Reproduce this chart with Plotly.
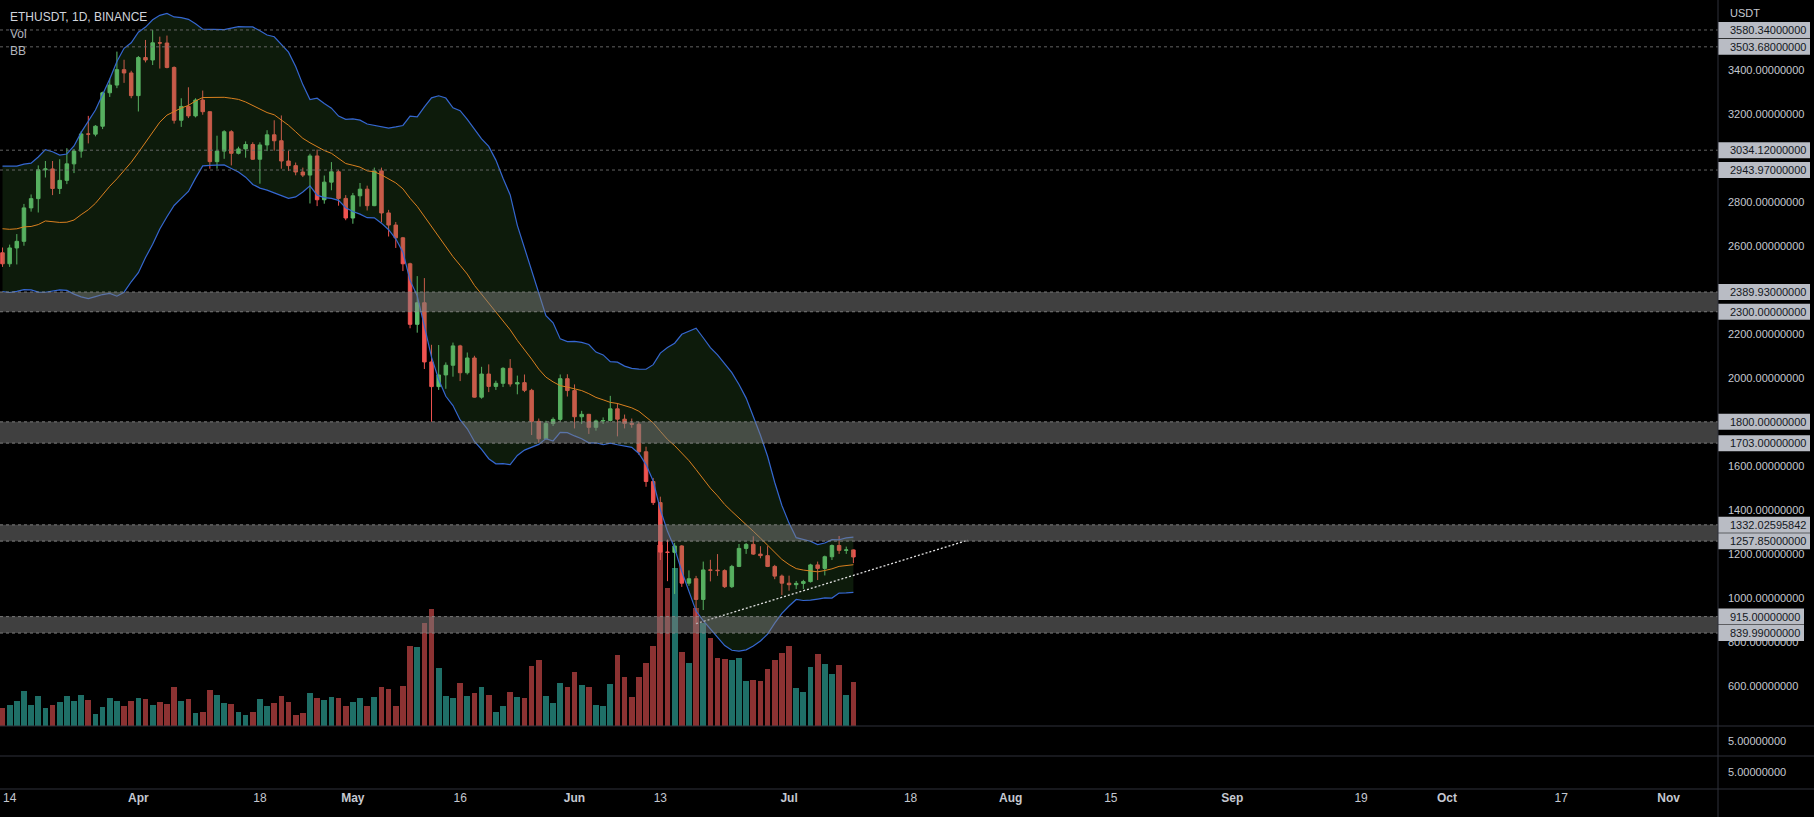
import pandas as pd
import plotly.graph_objects as go

# ---------------- data (ETHUSDT, 1D, Binance) ----------------
start_date = "2022-03-13"

# closes of the 19 days before the first visible candle (for Bollinger Bands)
pre_closes = [2640, 2575, 2597, 2778, 2771, 2620, 2920, 2972, 2950, 2834,
              2618, 2664, 2556, 2497, 2575, 2728, 2606, 2557, 2568]

opens = [2568, 2518, 2590, 2620, 2772, 2814, 2945, 2949, 2860, 2897,
         2972, 3030, 3108, 3107, 3143, 3295, 3330, 3400, 3385, 3282,
         3455, 3444, 3522, 3521, 3410, 3170, 3233, 3190, 3262, 3209,
         2982, 3030, 3118, 3020, 3040, 3060, 2993, 3058, 3104, 3077,
         2985, 2964, 2935, 2921, 3008, 2809, 2889, 2936, 2815, 2726,
         2827, 2857, 2782, 2940, 2749, 2694, 2636, 2518, 2243, 2341,
         2072, 1960, 2013, 2057, 2145, 2023, 2090, 1912, 2017, 1961,
         1975, 2043, 1972, 1978, 1943, 1802, 1723, 1792, 1811, 1996,
         1942, 1823, 1834, 1775, 1804, 1806, 1859, 1812, 1793, 1789,
         1664, 1529, 1433, 1208, 1207, 1236, 1067, 1087, 993, 1127,
         1126, 1124, 1051, 1143, 1225, 1243, 1199, 1192, 1143, 1099,
         1067, 1060, 1066, 1074, 1150, 1134, 1187, 1238, 1216, 1218]
highs = [2592, 2605, 2653, 2790, 2833, 2965, 2985, 2985, 2993, 3043,
         3040, 3120, 3190, 3148, 3300, 3360, 3482, 3445, 3395, 3462,
         3535, 3580, 3550, 3555, 3415, 3270, 3320, 3270, 3305, 3210,
         3100, 3125, 3125, 3050, 3074, 3070, 3070, 3125, 3170, 3192,
         3031, 2978, 2955, 3018, 3037, 2919, 2980, 2945, 2830, 2840,
         2885, 2873, 2955, 2955, 2763, 2708, 2640, 2523, 2462, 2453,
         2150, 2149, 2070, 2160, 2150, 2115, 2100, 2050, 2061, 1987,
         2048, 2085, 2010, 2015, 1950, 1815, 1805, 1820, 2015, 2016,
         1970, 1850, 1836, 1810, 1820, 1918, 1885, 1833, 1815, 1800,
         1687, 1545, 1460, 1265, 1250, 1240, 1125, 1100, 1165, 1173,
         1199, 1130, 1150, 1245, 1250, 1280, 1235, 1235, 1150, 1106,
         1101, 1077, 1082, 1155, 1165, 1192, 1243, 1281, 1233, 1220]
lows = [2504, 2504, 2515, 2600, 2755, 2751, 2910, 2830, 2835, 2880,
        2930, 3000, 3065, 3097, 3130, 3276, 3316, 3340, 3270, 3210,
        3433, 3421, 3405, 3406, 3155, 3140, 3180, 3183, 3195, 2950,
        2950, 2995, 2965, 3015, 3000, 2990, 2882, 3030, 3032, 2950,
        2940, 2920, 2912, 2792, 2780, 2791, 2852, 2782, 2716, 2700,
        2778, 2760, 2780, 2706, 2642, 2590, 2485, 2225, 2205, 2040,
        1800, 1945, 1950, 2005, 1985, 2015, 1910, 1905, 1935, 1945,
        1958, 1960, 1925, 1935, 1740, 1705, 1720, 1781, 1802, 1915,
        1770, 1790, 1745, 1760, 1790, 1801, 1734, 1770, 1773, 1650,
        1505, 1422, 1172, 1076, 1018, 1050, 1055, 881, 945, 1075,
        1100, 1045, 1045, 1140, 1200, 1195, 1180, 1140, 1085, 1013,
        1033, 1040, 1040, 1070, 1081, 1102, 1172, 1200, 1200, 1158]
closes = [2518, 2590, 2620, 2772, 2814, 2945, 2949, 2860, 2897, 2972,
          3030, 3108, 3107, 3143, 3295, 3330, 3400, 3385, 3282, 3455,
          3444, 3522, 3521, 3410, 3170, 3233, 3190, 3262, 3209, 2982,
          3030, 3118, 3020, 3040, 3060, 2993, 3058, 3104, 3077, 2985,
          2964, 2935, 2921, 3008, 2809, 2889, 2936, 2815, 2726, 2827,
          2857, 2782, 2940, 2749, 2694, 2636, 2518, 2243, 2341, 2072,
          1960, 2013, 2057, 2145, 2023, 2090, 1912, 2017, 1961, 1975,
          2043, 1972, 1978, 1943, 1802, 1723, 1792, 1811, 1996, 1942,
          1823, 1834, 1775, 1804, 1806, 1859, 1812, 1793, 1789, 1664,
          1529, 1433, 1208, 1207, 1236, 1067, 1087, 993, 1127, 1126,
          1124, 1051, 1143, 1225, 1243, 1199, 1192, 1143, 1099, 1067,
          1060, 1066, 1074, 1150, 1134, 1187, 1238, 1216, 1218, 1186]
# volume, thousands of ETH
volumes_k = [300, 344, 410, 579, 344, 492, 295, 344, 394, 492,
             410, 508, 426, 197, 312, 459, 410, 328, 415, 459,
             443, 344, 394, 361, 640, 410, 443, 213, 230, 590,
             508, 377, 361, 230, 180, 230, 443, 328, 377, 492,
             394, 180, 213, 541, 459, 426, 476, 459, 328, 394,
             459, 328, 476, 640, 607, 328, 656, 1312, 1296, 1689,
             1919, 951, 492, 459, 705, 492, 541, 640, 508, 230,
             328, 558, 476, 459, 984, 1082, 492, 377, 705, 640,
             886, 672, 640, 344, 328, 689, 1164, 804, 476, 804,
             1033, 1312, 2968, 2263, 2591, 1214, 1033, 1935, 1689, 1443,
             1115, 1099, 1082, 1115, 738, 754, 738, 935, 1082, 1197,
             1312, 623, 558, 968, 1181, 1017, 853, 1000, 508, 722]

# horizontal zones (low, high) and single levels
zones = [(2300.0, 2389.93), (1703.0, 1800.0), (1257.85, 1332.02595842), (839.99, 915.0)]
zone_labels = [("2389.93000000", "2300.00000000"), ("1800.00000000", "1703.00000000"),
               ("1332.02595842", "1257.85000000"), ("915.00000000", "839.99000000")]
levels = [3580.34, 3503.68, 3034.12, 2943.97]
level_labels = ["3580.34000000", "3503.68000000", "3034.12000000", "2943.97000000"]

# dotted trend line
trend_dates = ["2022-06-18", "2022-07-26"]
trend_prices = [883, 1262]

# price-scale ticks (the ones at 1800/2400/3000/3600 sit under the level labels)
price_ticks = [600, 800, 1000, 1200, 1400, 1600, 2000, 2200, 2600, 2800, 3200, 3400]
x_tick_dates = ["2022-03-14", "2022-04-01", "2022-04-18", "2022-05-01", "2022-05-16",
                "2022-06-01", "2022-06-13", "2022-07-01", "2022-07-18", "2022-08-01",
                "2022-08-15", "2022-09-01", "2022-09-19", "2022-10-01", "2022-10-17",
                "2022-11-01"]
x_tick_text = ["14", "<b>Apr</b>", "18", "<b>May</b>", "16", "<b>Jun</b>", "13", "<b>Jul</b>",
               "18", "<b>Aug</b>", "15", "<b>Sep</b>", "19", "<b>Oct</b>", "17", "<b>Nov</b>"]

# ---------------- derived ----------------
dates = pd.date_range(start_date, periods=len(closes), freq="D")
all_close = pd.Series(pre_closes + closes, dtype=float)
bb_mid_all = all_close.rolling(20).mean()
bb_dev_all = all_close.rolling(20).std(ddof=0)
n_pre = len(pre_closes)
bb_mid = bb_mid_all.iloc[n_pre:].values
bb_up = (bb_mid_all + 2 * bb_dev_all).iloc[n_pre:].values
bb_lo = (bb_mid_all - 2 * bb_dev_all).iloc[n_pre:].values

UP = "#5fbf6e"
DOWN = "#ef5350"
VOL_UP = "#1f6f67"
VOL_DOWN = "#8c3232"
vol_colors = [VOL_UP if c >= o else VOL_DOWN for o, c in zip(opens, closes)]

W, H = 1814, 817
PLOT_W = 1718
PLOT_H = 789
main_bottom = (PLOT_H - 726) / PLOT_H
pane2_bottom = (PLOT_H - 756) / PLOT_H

fig = go.Figure()

fig.add_trace(go.Bar(x=dates, y=volumes_k, marker_color=vol_colors, marker_line_width=0,
                     width=86400000 * 0.8, xaxis="x", yaxis="y", hoverinfo="skip"))

BB_BLUE = "#3567d0"
fig.add_trace(go.Scatter(x=dates, y=bb_up, mode="lines", line=dict(color=BB_BLUE, width=1.2),
                         xaxis="x", yaxis="y2", hoverinfo="skip"))
fig.add_trace(go.Scatter(x=dates, y=bb_lo, mode="lines", line=dict(color=BB_BLUE, width=1.2),
                         fill="tonexty", fillcolor="rgba(60,125,50,0.22)",
                         xaxis="x", yaxis="y2", hoverinfo="skip"))
fig.add_trace(go.Scatter(x=dates, y=bb_mid, mode="lines", line=dict(color="#d9801f", width=1),
                         xaxis="x", yaxis="y2", hoverinfo="skip"))

fig.add_trace(go.Candlestick(x=dates, open=opens, high=highs, low=lows, close=closes,
                             increasing=dict(line=dict(color=UP, width=1), fillcolor=UP),
                             decreasing=dict(line=dict(color=DOWN, width=1), fillcolor=DOWN),
                             whiskerwidth=0, xaxis="x", yaxis="y2"))

fig.add_trace(go.Scatter(x=trend_dates, y=trend_prices, mode="lines",
                         line=dict(color="#e0e0e0", width=1.3, dash="2px,2px"),
                         xaxis="x", yaxis="y2", hoverinfo="skip"))

fig.add_trace(go.Scatter(x=[], y=[], xaxis="x", yaxis="y3"))
fig.add_trace(go.Scatter(x=[], y=[], xaxis="x", yaxis="y4"))

TICK_FONT = dict(family="Liberation Sans, Arial, sans-serif", size=11, color="#c5c8d0")

fig.update_layout(
    width=W, height=H,
    margin=dict(l=0, r=W - PLOT_W, t=0, b=H - PLOT_H),
    paper_bgcolor="#000000", plot_bgcolor="#000000",
    showlegend=False,
    bargap=0,
    xaxis=dict(domain=[0, 1], anchor="y4",
               range=["2022-03-12 15:36", "2022-11-07 22:00"],
               tickvals=x_tick_dates, ticktext=x_tick_text,
               showgrid=False, zeroline=False, showline=False, ticks="",
               tickfont=dict(family="Liberation Sans, Arial, sans-serif", size=12, color="#c5c8d0"),
               rangeslider=dict(visible=False), fixedrange=True),
    yaxis=dict(domain=[main_bottom, 1], range=[0, 726 * 16.4], visible=False, fixedrange=True),
    yaxis2=dict(overlaying="y", side="right", anchor="x",
                range=[418, 3716.5],
                tickvals=price_ticks, ticktext=[f"{v:.8f}" for v in price_ticks],
                showgrid=False, zeroline=False, showline=False, ticks="",
                ticklabelstandoff=9, tickfont=TICK_FONT, fixedrange=True),
    yaxis3=dict(domain=[pane2_bottom, main_bottom], anchor="x", side="right",
                range=[0, 10], tickvals=[5], ticktext=["5.00000000"],
                showgrid=False, zeroline=False, showline=False, ticks="",
                ticklabelstandoff=9, tickfont=TICK_FONT, fixedrange=True),
    yaxis4=dict(domain=[0, pane2_bottom], anchor="x", side="right",
                range=[0, 10], tickvals=[5], ticktext=["5.00000000"],
                showgrid=False, zeroline=False, showline=False, ticks="",
                ticklabelstandoff=9, tickfont=TICK_FONT, fixedrange=True),
)

shapes = []
annotations = []
ZONE_FILL = "rgba(128,128,128,0.5)"
EDGE = "rgba(150,150,150,0.75)"
LEVEL_LINE = "rgba(110,110,110,0.9)"
BOX_BG = "#b9bcc4"
BOX_TXT = "#131722"
px_per_price = 726 / (3716.5 - 418)
half_box = 8 / px_per_price
box_x1 = 1 + 92 / PLOT_W
text_x = 1 + 10 / PLOT_W
LABEL_FONT = dict(family="Liberation Sans, Arial, sans-serif", size=11, color=BOX_TXT)

for (lo, hi), (lab_hi, lab_lo) in zip(zones, zone_labels):
    shapes.append(dict(type="rect", xref="paper", yref="y2", x0=0, x1=1, y0=lo, y1=hi,
                       fillcolor=ZONE_FILL, line=dict(width=0), layer="above"))
    for v in (lo, hi):
        shapes.append(dict(type="line", xref="paper", yref="y2", x0=0, x1=1, y0=v, y1=v,
                           line=dict(color=EDGE, width=1, dash="dot"), layer="above"))
    bx1 = box_x1 if hi > 1000 else 1 + 86 / PLOT_W
    for v, t in ((hi, lab_hi), (lo, lab_lo)):
        shapes.append(dict(type="rect", xref="paper", yref="y2", x0=1, x1=bx1,
                           y0=v - half_box, y1=v + half_box,
                           fillcolor=BOX_BG, line=dict(width=0), layer="above"))
        annotations.append(dict(xref="paper", yref="y2", x=text_x, y=v, text=t,
                                xanchor="left", yanchor="middle", showarrow=False,
                                font=LABEL_FONT))

for v, t in zip(levels, level_labels):
    shapes.append(dict(type="line", xref="paper", yref="y2", x0=0, x1=1, y0=v, y1=v,
                       line=dict(color=LEVEL_LINE, width=1, dash="dot"), layer="above"))
    shapes.append(dict(type="rect", xref="paper", yref="y2", x0=1, x1=box_x1,
                       y0=v - half_box, y1=v + half_box,
                       fillcolor=BOX_BG, line=dict(width=0), layer="above"))
    annotations.append(dict(xref="paper", yref="y2", x=text_x, y=v, text=t,
                            xanchor="left", yanchor="middle", showarrow=False,
                            font=LABEL_FONT))

# pane separators and price-scale border
SEP = "#2e313b"
right_edge = W / PLOT_W
for py in (main_bottom, pane2_bottom, 0):
    shapes.append(dict(type="line", xref="paper", yref="paper", x0=0, x1=right_edge,
                       y0=py, y1=py, line=dict(color=SEP, width=1), layer="above"))
shapes.append(dict(type="line", xref="paper", yref="paper", x0=1, x1=1,
                   y0=-(H - PLOT_H) / PLOT_H, y1=1, line=dict(color=SEP, width=1), layer="above"))

# header texts
HEAD_FONT = dict(family="Liberation Sans, Arial, sans-serif", size=12, color="#d1d4dc")
annotations.append(dict(xref="paper", yref="paper", x=8 / PLOT_W, y=1 - 17 / PLOT_H,
                        text="ETHUSDT, 1D, BINANCE", xanchor="left", yanchor="middle",
                        showarrow=False, font=HEAD_FONT))
annotations.append(dict(xref="paper", yref="paper", x=8 / PLOT_W, y=1 - 34 / PLOT_H,
                        text="Vol", xanchor="left", yanchor="middle",
                        showarrow=False, font=dict(HEAD_FONT, color="#b2b5be")))
annotations.append(dict(xref="paper", yref="paper", x=8 / PLOT_W, y=1 - 51 / PLOT_H,
                        text="BB", xanchor="left", yanchor="middle",
                        showarrow=False, font=dict(HEAD_FONT, color="#b2b5be")))
annotations.append(dict(xref="paper", yref="paper", x=text_x, y=1 - 13 / PLOT_H,
                        text="USDT", xanchor="left", yanchor="middle",
                        showarrow=False, font=TICK_FONT))

fig.update_layout(shapes=shapes, annotations=annotations)

fig.write_html("out.html", config={"displayModeBar": False, "staticPlot": True})
